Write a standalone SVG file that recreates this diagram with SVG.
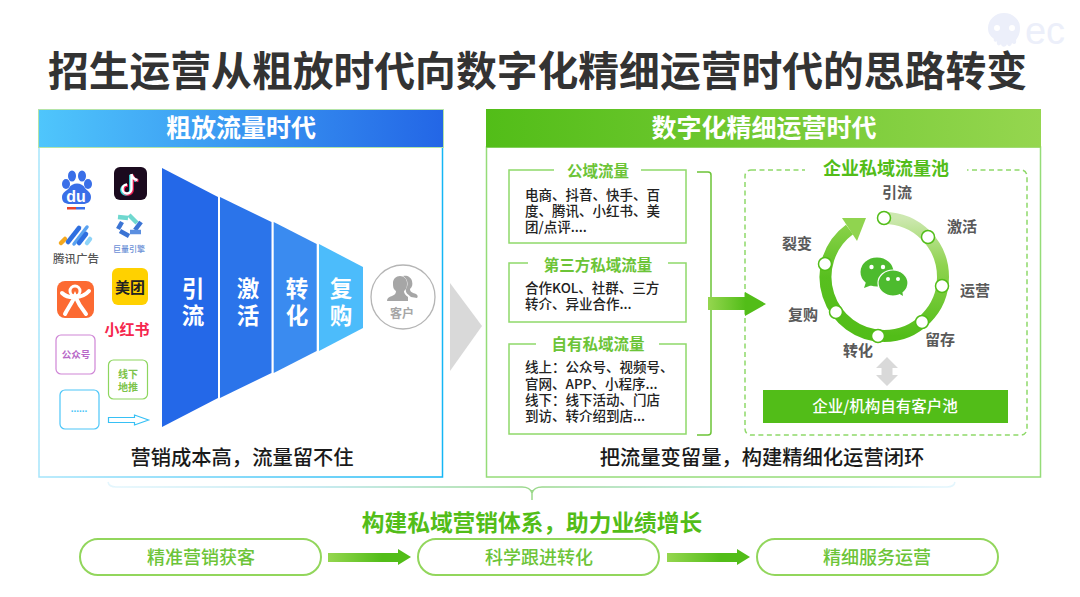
<svg xmlns="http://www.w3.org/2000/svg" width="1080" height="597" viewBox="0 0 1080 597">
<style>
text{font-family:"Noto Sans CJK SC","Liberation Sans",sans-serif;text-anchor:middle;dominant-baseline:central;transform:translateY(-1.5px)}
.l{text-anchor:start;font-size:13.5px;fill:#222;font-weight:500}
.bt{font-size:15.5px;font-weight:700;fill:#6cc437}
.rl{font-size:15px;font-weight:700;fill:#595959}
.ft{font-size:22.5px;font-weight:700;fill:#fff}
.hd{font-size:25px;font-weight:700;fill:#fff}
.sub{font-size:20.3px;font-weight:500;fill:#1a1a1a}
.pill{fill:#fff;stroke:#92d65c;stroke-width:2}
.pt{font-size:18px;font-weight:500;fill:#6cc437}
.box{fill:#fff;stroke:#8fd96a;stroke-width:1.5}
.node{fill:#fff;stroke:#52bd18;stroke-width:1.5}
</style>
<defs>
<linearGradient id="gb" x1="0" x2="1" y1="0" y2="0"><stop offset="0" stop-color="#4fc6fc"/><stop offset="1" stop-color="#2366e6"/></linearGradient>
<linearGradient id="gg" x1="0" x2="1" y1="0" y2="0"><stop offset="0" stop-color="#52bd18"/><stop offset="1" stop-color="#95d64f"/></linearGradient>
<linearGradient id="ga" x1="0" x2="1" y1="0" y2="0"><stop offset="0" stop-color="#95d64f"/><stop offset=".65" stop-color="#52bd18"/></linearGradient>
<linearGradient id="gbb" gradientUnits="userSpaceOnUse" x1="38" x2="443" y1="0" y2="0"><stop offset="0" stop-color="#a6e5fb"/><stop offset="1" stop-color="#14b6f5"/></linearGradient>
<linearGradient id="gbr" gradientUnits="userSpaceOnUse" x1="108" x2="955" y1="0" y2="0"><stop offset="0" stop-color="#e4f6fd"/><stop offset=".25" stop-color="#b5e4ec"/><stop offset=".5" stop-color="#9ad88a"/><stop offset=".75" stop-color="#b5e4ec"/><stop offset="1" stop-color="#e4f6fd"/></linearGradient>
<linearGradient id="gr1" gradientUnits="userSpaceOnUse" x1="0" x2="0" y1="218" y2="336"><stop offset="0" stop-color="#cde8b0"/><stop offset=".4" stop-color="#8fd34f"/><stop offset="1" stop-color="#52bd18"/></linearGradient>
<linearGradient id="gr2" gradientUnits="userSpaceOnUse" x1="0" x2="0" y1="336" y2="218"><stop offset="0" stop-color="#52bd18"/><stop offset=".5" stop-color="#58bf1f"/><stop offset="1" stop-color="#90d44f"/></linearGradient>
</defs>
<rect width="1080" height="597" fill="#fff"/>

<g id="watermark">
<path d="M988 28a16 15 0 0 1 32 0c0 6-2 9-4 12 1 4-2 5-4 3-1 4-4 4-5 1-1 4-6 3-6 0-2 3-5 1-4-3-2 2-4 0-3-2-4-3-6-6-6-11z" fill="#eceffa"/>
<circle cx="997" cy="28" r="3" fill="#fff"/><circle cx="1012" cy="28" r="3" fill="#fff"/>
<text x="1045" y="32" font-size="38" fill="#eceffa" style="font-family:'Liberation Sans',sans-serif">ec</text>
</g>
<text id="title" x="537.500" y="70" font-size="40.800" font-weight="700" fill="#333">招生运营从粗放时代向数字化精细运营时代的思路转变</text>

<g id="left-panel">
<rect x="39" y="147" width="403.500" height="330" fill="#fff" stroke="url(#gbb)" stroke-width="1.500"/>
<rect x="38.500" y="109.500" width="405" height="38" fill="url(#gb)" stroke="#b4e4a8" stroke-width="1"/>
<text class="hd" x="241" y="127">粗放流量时代</text>
<text class="sub" x="242" y="457">营销成本高，流量留不住</text>
</g>

<g id="logo-baidu">
<g fill="#3a6fe8"><ellipse cx="66" cy="184" rx="4" ry="5"/><ellipse cx="72" cy="176" rx="4" ry="5.500"/><ellipse cx="82" cy="176" rx="4" ry="5.500"/><ellipse cx="88" cy="184" rx="4" ry="5"/>
<path d="M62 197c0-5 5-6 7-9 3-6 13-6 16 0 2 3 6 4 6 9 0 5-4 7-8 7H70c-5 0-8-2-8-7z"/></g>
<text x="76" y="198" font-size="16" font-weight="700" fill="#fff" style="font-family:'Liberation Sans',sans-serif">du</text>
<rect x="67" y="207" width="9" height="2.500" fill="#e8442c"/><rect x="76" y="207" width="9" height="2.500" fill="#3a6fe8"/>
</g>
<g id="logo-tiktok">
<rect x="114" y="167" width="33" height="33" rx="6" fill="#1b0a1e"/>
<path d="M131.500 174v15a4.500 4.500 0 1 1-4.500-4.500M131.500 174c.5 3.500 3 5.500 6 6" fill="none" stroke="#35e0e0" stroke-width="2.800" transform="translate(-1 .8)"/>
<path d="M131.500 174v15a4.500 4.500 0 1 1-4.500-4.500M131.500 174c.5 3.500 3 5.500 6 6" fill="none" stroke="#ee1d52" stroke-width="2.800" transform="translate(1 .8)"/>
<path d="M131.500 174v15a4.500 4.500 0 1 1-4.500-4.500M131.500 174c.5 3.500 3 5.500 6 6" fill="none" stroke="#fff" stroke-width="2.400"/>
</g>
<g id="logo-tencent">
<g stroke-linecap="round" stroke-width="4.500" fill="none">
<path d="M61 243l4-4" stroke="#f4a81e"/>
<path d="M68 242l11-14" stroke="#2f6fe0"/>
<path d="M74 244l13-17" stroke="#5aa2f0" stroke-width="3.500"/>
<path d="M79 243l7-9" stroke="#2f6fe0"/>
<path d="M87 243l3-4" stroke="#8fd4f8"/>
</g>
<text x="76" y="259" font-size="11.500" font-weight="500" fill="#555">腾讯广告</text>
</g>
<g id="logo-juliang">
<g fill="none" stroke-width="4.500">
<path d="M118 217l10 1" stroke="#6fd8cf"/><path d="M129 215l8 8" stroke="#6fd8cf"/>
<path d="M141 222l-6 8" stroke="#3b74d4"/><path d="M141 232l-11 0" stroke="#5b8fe0"/>
<path d="M129 236l-9-5" stroke="#3b74d4"/><path d="M118 229l4-7" stroke="#3b74d4"/>
</g>
<text x="129" y="250" font-size="8" font-weight="500" fill="#6b8fd6">巨量引擎</text>
</g>
<g id="logo-meituan">
<rect x="112" y="268" width="36" height="37" rx="6" fill="#ffd100"/>
<text x="130" y="288" font-size="15" font-weight="700" fill="#222">美团</text>
</g>
<g id="logo-dianping">
<rect x="57" y="281" width="37" height="37" rx="8" fill="#fc6a32"/>
<circle cx="75" cy="291" r="5" fill="none" stroke="#fff" stroke-width="3"/>
<path d="M62 293c6 6 20 6 27-2M65 314c3-6 7-11 10-18 3 7 7 13 11 18" fill="none" stroke="#fff" stroke-width="4" stroke-linecap="round"/>
</g>
<g id="logo-xiaohongshu">
<text x="127" y="330" font-size="15" font-weight="700" fill="#f5274d">小红书</text>
</g>
<g id="logo-gzh">
<rect x="56" y="335" width="39" height="39" rx="5" fill="#fff" stroke="#cf85d6" stroke-width="1.200"/>
<text x="76" y="355" font-size="9.500" font-weight="700" fill="#b868c8">公众号</text>
</g>
<g id="logo-offline">
<rect x="108.500" y="360" width="39" height="39" rx="5" fill="#fff" stroke="#8dd65e" stroke-width="1.200"/>
<text font-size="10" font-weight="700" fill="#7cc34a"><tspan x="128" y="374">线下</tspan><tspan x="128" y="387">地推</tspan></text>
</g>
<g id="logo-more">
<rect x="60" y="390" width="39" height="39" rx="5" fill="#fff" stroke="#4cc6f8" stroke-width="1.200"/>
<text x="79" y="410" font-size="10" font-weight="700" fill="#4cc6f8" style="font-family:'Liberation Sans',sans-serif">......</text>
</g>
<path id="hollow-arrow" d="M108.500 417.500h26v-2.500l14 5-14 5v-2.500h-26z" fill="#fff" stroke="#37c0f5" stroke-width="1.200"/>

<g id="funnel-1"><path d="M162 168L218 197V398L162 427z" fill="#2468e8"/><text class="ft"><tspan x="193" y="288">引</tspan><tspan x="193" y="315">流</tspan></text></g>
<g id="funnel-2"><path d="M220 197L271.500 222V373L220 398z" fill="#2b74ea"/><text class="ft"><tspan x="248" y="288">激</tspan><tspan x="248" y="315">活</tspan></text></g>
<g id="funnel-3"><path d="M273.700 222L316.700 244V351L273.700 373z" fill="#3a8bf0"/><text class="ft"><tspan x="297" y="288">转</tspan><tspan x="297" y="315">化</tspan></text></g>
<g id="funnel-4"><path d="M319 244L363 267V328L319 351z" fill="#4cbcfb"/><text class="ft"><tspan x="341" y="288">复</tspan><tspan x="341" y="315">购</tspan></text></g>
<g id="customer">
<circle cx="403" cy="297" r="32" fill="#fff" stroke="#b5b5b5" stroke-width="1.300"/>
<path d="M408 297c-3-2-4-4-4-6 3-2 3-5 3-8 0-4-3-7-7-7s-7 3-7 7c0 3 0 6 3 8 0 2-1 4-4 5-3 1-5 2-5 5h21z" fill="#a6a6a6"/>
<path d="M403 276c4-1 8 1 9 5s0 6-2 8c0 3 3 4 6 5 2 1 2 3 1 4l-6-1c-3-3-6-4-5-8 2-3 3-9-3-13z" fill="#a6a6a6"/>
<text x="402" y="314" font-size="12" font-weight="700" fill="#a6a6a6">客户</text>
</g>
<path id="big-triangle" d="M450 283L482 326L450 371z" fill="#d9d9d9"/>

<g id="right-panel">
<rect x="486.500" y="147" width="554" height="330" fill="#fff" stroke="#95dc78" stroke-width="1.500"/>
<rect x="486" y="109" width="555" height="38.500" fill="url(#gg)"/>
<text class="hd" x="764" y="127">数字化精细运营时代</text>
<text class="sub" x="762" y="457">把流量变留量，构建精细化运营闭环</text>
</g>

<g id="box-public">
<rect class="box" x="509" y="170" width="177" height="73"/>
<rect x="554" y="165" width="87" height="10" fill="#fff"/>
<text class="bt" x="598" y="171">公域流量</text>
<text class="l"><tspan x="525" y="195">电商、抖音、快手、百</tspan><tspan x="525" y="211">度、腾讯、小红书、美</tspan><tspan x="525" y="227">团/点评....</tspan></text>
</g>
<g id="box-third">
<rect class="box" x="509" y="263" width="177" height="59"/>
<rect x="528" y="258" width="140" height="10" fill="#fff"/>
<text class="bt" x="598" y="265">第三方私域流量</text>
<text class="l"><tspan x="525" y="288">合作KOL、社群、三方</tspan><tspan x="525" y="304">转介、异业合作...</tspan></text>
</g>
<g id="box-own">
<rect class="box" x="509" y="344" width="177" height="90"/>
<rect x="536" y="339" width="123" height="10" fill="#fff"/>
<text class="bt" x="598" y="344">自有私域流量</text>
<text class="l"><tspan x="525" y="367">线上：公众号、视频号、</tspan><tspan x="525" y="384">官网、APP、小程序...</tspan><tspan x="525" y="400">线下：线下活动、门店</tspan><tspan x="525" y="416">到访、转介绍到店...</tspan></text>
</g>

<g id="pool">
<rect x="745" y="170" width="282" height="265" rx="6" fill="#fff" stroke="#8fd96a" stroke-width="1.500" stroke-dasharray="5 3.500"/>
<rect x="805" y="160" width="162" height="16" fill="#fff"/>
<text x="886" y="168" font-size="18" font-weight="700" fill="#52bd18">企业私域流量池</text>
</g>

<g id="ring">
<path d="M884 218A59 59 0 0 1 884 336" fill="none" stroke="url(#gr1)" stroke-width="12"/>
<path d="M884 336A59 59 0 0 1 849.500 229.500" fill="none" stroke="url(#gr2)" stroke-width="12"/>
<path d="M842 218H866L857 241z" fill="#90d44f"/>
<circle class="node" cx="884" cy="218" r="6.500"/>
<circle class="node" cx="928" cy="237" r="6.500"/>
<circle class="node" cx="942" cy="286" r="6.500"/>
<circle class="node" cx="922" cy="322" r="6.500"/>
<circle class="node" cx="878" cy="336" r="6.500"/>
<circle class="node" cx="836" cy="312" r="6.500"/>
<circle class="node" cx="825" cy="264" r="6.500"/>
<text class="rl" x="897" y="193">引流</text>
<text class="rl" x="962" y="227">激活</text>
<text class="rl" x="975" y="291">运营</text>
<text class="rl" x="940" y="340">留存</text>
<text class="rl" x="858" y="351">转化</text>
<text class="rl" x="803" y="315">复购</text>
<text class="rl" x="797" y="244">裂变</text>
</g>
<g id="wechat">
<ellipse cx="877" cy="272" rx="16.500" ry="14.500" fill="#4dbb2e"/>
<path d="M866 282l-2 6 8-3z" fill="#4dbb2e"/>
<circle cx="871.500" cy="267" r="2.200" fill="#fff"/><circle cx="883" cy="267" r="2.200" fill="#fff"/>
<ellipse cx="893" cy="283" rx="15" ry="13" fill="#4dbb2e" stroke="#fff" stroke-width="1.200"/>
<path d="M898 293l5 3-1-6z" fill="#4dbb2e"/>
<circle cx="888" cy="279" r="2" fill="#fff"/><circle cx="898" cy="279" r="2" fill="#fff"/>
</g>
<path id="double-arrow" d="M887 357l11 11h-5.500v7h5.500l-11 11-11-11h5.500v-7H876z" fill="#d9d9d9"/>
<g id="own-pool">
<rect x="763" y="390" width="245" height="33" fill="#52bd18"/>
<text x="885" y="406" font-size="15.500" font-weight="500" fill="#fff">企业/机构自有客户池</text>
</g>

<g id="connectors">
<path d="M697 172H708Q711 172 711 175V432Q711 435 708 435H697" fill="none" stroke="#6cc437" stroke-width="1.500"/>
<path d="M708 297H745V292L766 304L745 316V310H708z" fill="url(#ga)"/>
<path d="M108 482Q109 487 116 487H522Q530 487 532 493Q534 487 542 487H947Q954 487 955 482M532 490V500" fill="none" stroke="url(#gbr)" stroke-width="1.500"/>
<path d="M328 553H398V549L411 557L398 565V562H328z" fill="url(#ga)"/>
<path d="M667 553H737V549L750 557L737 565V562H667z" fill="url(#ga)"/>
</g>

<text id="summary" x="532" y="523" font-size="22.700" font-weight="700" fill="#52bd18">构建私域营销体系，助力业绩增长</text>
<g id="pill-1"><rect class="pill" x="80" y="539" width="241" height="36" rx="18"/><text class="pt" x="201" y="557">精准营销获客</text></g>
<g id="pill-2"><rect class="pill" x="418" y="539" width="241" height="36" rx="18"/><text class="pt" x="539" y="557">科学跟进转化</text></g>
<g id="pill-3"><rect class="pill" x="757" y="539" width="241" height="36" rx="18"/><text class="pt" x="877" y="557">精细服务运营</text></g>
</svg>
